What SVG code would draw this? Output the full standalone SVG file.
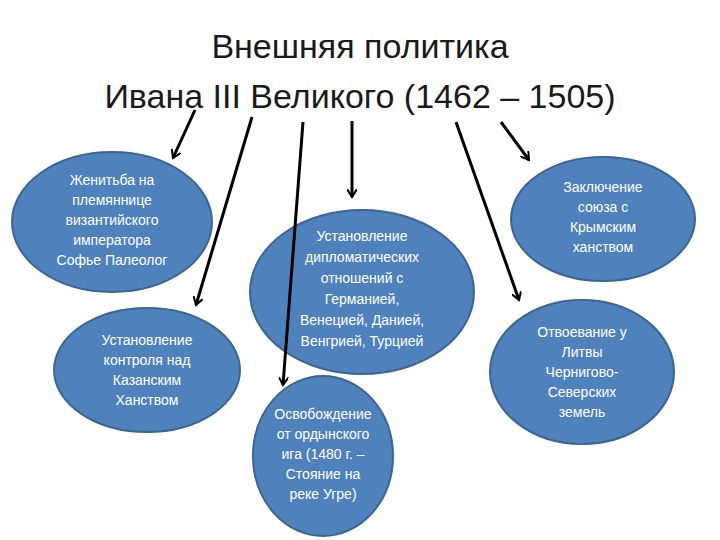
<svg xmlns="http://www.w3.org/2000/svg" width="720" height="540" viewBox="0 0 720 540">
<defs>
<marker id="ah" markerWidth="10" markerHeight="10" refX="8" refY="5" orient="auto" markerUnits="userSpaceOnUse" viewBox="0 0 10 10">
<path d="M0,0 L8,5 L0,10" fill="none" stroke="#000" stroke-width="2"/>
</marker>
</defs>
<style>
.n{fill:#4f81bd;stroke:#3b6593;stroke-width:2}
.t{font-family:"Liberation Sans",Arial,sans-serif;font-size:14px;fill:#fff;text-anchor:middle}
.h{font-family:"Liberation Sans",Arial,sans-serif;font-size:34px;fill:#1a1a1a;text-anchor:middle}
.c line{stroke:#000;stroke-width:3;marker-end:url(#ah)}
</style>
<rect width="720" height="540" fill="#fff"/>
<text class="h" x="360" y="58">Внешняя политика</text>
<text class="h" x="360" y="108">Ивана III Великого (1462 – 1505)</text>
<g id="n1"><ellipse class="n" cx="112" cy="222" rx="100" ry="70"/>
<text class="t" x="112" y="185">Женитьба на<tspan x="112" dy="20">племяннице</tspan><tspan x="112" dy="20">византийского</tspan><tspan x="112" dy="20">императора</tspan><tspan x="112" dy="20">Софье Палеолог</tspan></text></g>
<g id="n2"><ellipse class="n" cx="147" cy="370" rx="93" ry="62"/>
<text class="t" x="147" y="345">Установление<tspan x="147" dy="20">контроля над</tspan><tspan x="147" dy="20">Казанским</tspan><tspan x="147" dy="20">Ханством</tspan></text></g>
<g id="n3"><ellipse class="n" cx="362" cy="292" rx="112" ry="82"/>
<text class="t" x="362" y="241">Установление<tspan x="362" dy="21">дипломатических</tspan><tspan x="362" dy="21">отношений с</tspan><tspan x="362" dy="21">Германией,</tspan><tspan x="362" dy="21">Венецией, Данией,</tspan><tspan x="362" dy="21">Венгрией, Турцией</tspan></text></g>
<g id="n4"><ellipse class="n" cx="323" cy="456" rx="70" ry="80"/>
<text class="t" x="323" y="419">Освобождение<tspan x="323" dy="20">от ордынского</tspan><tspan x="323" dy="20">ига (1480 г. –</tspan><tspan x="323" dy="20">Стояние на</tspan><tspan x="323" dy="20">реке Угре)</tspan></text></g>
<g id="n5"><ellipse class="n" cx="603" cy="219" rx="92" ry="62"/>
<text class="t" x="603" y="192">Заключение<tspan x="603" dy="20">союза с</tspan><tspan x="603" dy="20">Крымским</tspan><tspan x="603" dy="20">ханством</tspan></text></g>
<g id="n6"><ellipse class="n" cx="582" cy="372" rx="92" ry="72"/>
<text class="t" x="582" y="337">Отвоевание у<tspan x="582" dy="20">Литвы</tspan><tspan x="582" dy="20">Чернигово-</tspan><tspan x="582" dy="20">Северских</tspan><tspan x="582" dy="20">земель</tspan></text></g>
<g class="c" id="connectors">
<line x1="195" y1="110" x2="173" y2="158"/>
<line x1="252" y1="117" x2="196" y2="305"/>
<line x1="303" y1="122" x2="283" y2="385"/>
<line x1="352" y1="121" x2="352" y2="197"/>
<line x1="456" y1="122" x2="519" y2="300"/>
<line x1="501" y1="122" x2="529" y2="160"/>
</g>
</svg>
